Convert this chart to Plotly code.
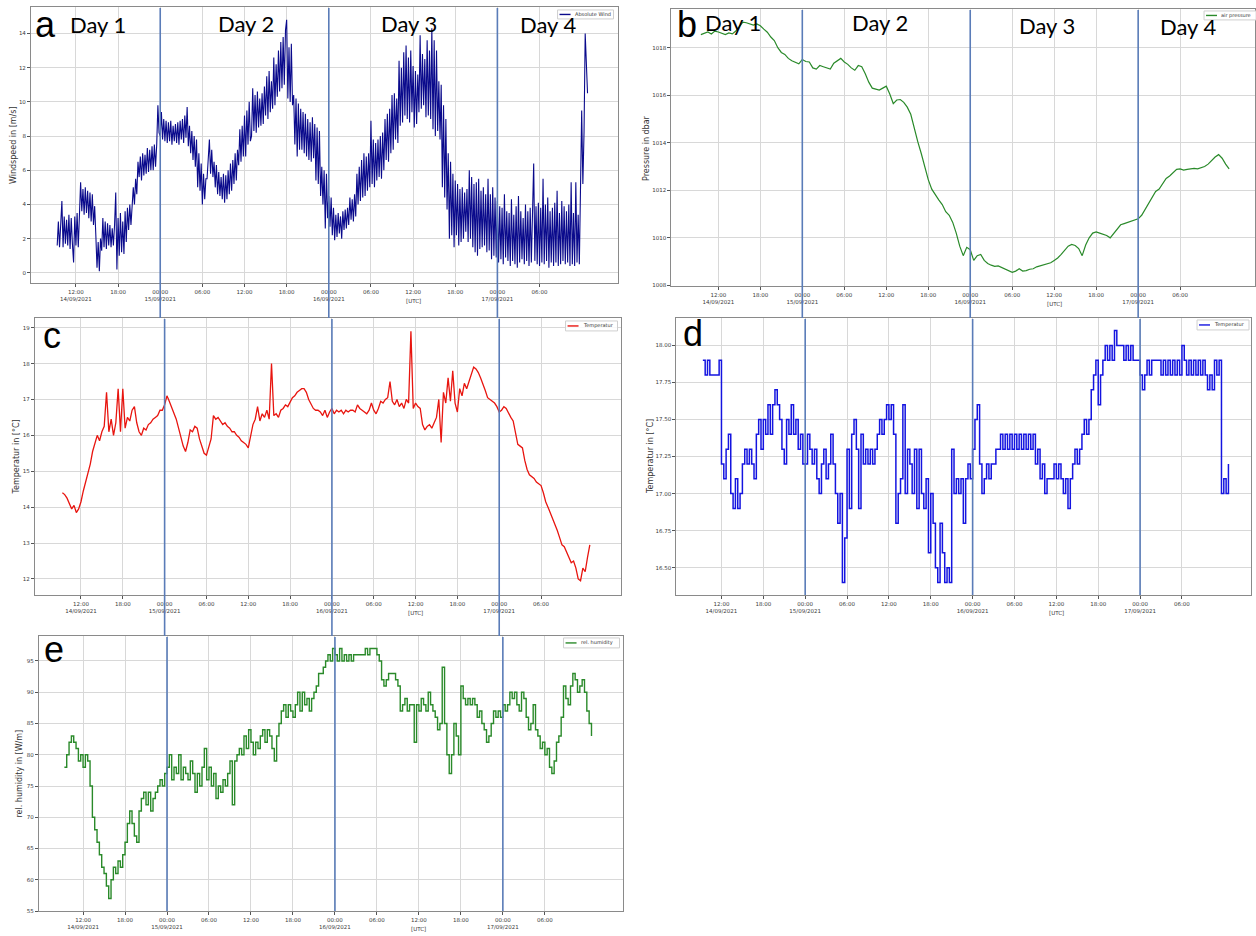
import pandas as pd
import plotly.graph_objects as go

W, H = 1256, 936
T0 = pd.Timestamp("2021-09-14 00:00")


def at(h):
    """Timestamp string for a number of hours after 14/09/2021 00:00 UTC."""
    return (T0 + pd.Timedelta(hours=h)).strftime("%Y-%m-%d %H:%M:%S")


# ---------------------------------------------------------------------------
# Measurements
# ---------------------------------------------------------------------------
# absolute wind speed [m/s], 10-minute samples from 14/09 09:20 UTC (one row per hour)
wind_speed = [
    1.6, 3.0, 1.5, 2.8,
    4.2, 1.5, 3.3, 1.7, 3.1, 1.6,
    3.4, 1.4, 3.2, 1.7, 0.6, 3.3,
    1.6, 3.5, 1.5, 3.4, 5.3, 3.6,
    4.9, 3.4, 5.0, 3.5, 4.8, 3.2,
    4.7, 3.0, 4.6, 2.8, 3.9, 2.2,
    0.3, 1.8, 0.1, 2.0, 1.3, 3.2,
    1.5, 3.0, 1.4, 2.9, 1.6, 2.8,
    1.5, 2.6, 1.6, 2.8, 4.7, 0.2,
    3.2, 1.0, 3.5, 1.2, 3.0, 1.1,
    3.6, 1.8, 3.8, 2.5, 4.0, 2.8,
    3.8, 5.0, 4.0, 5.5, 4.6, 6.5,
    5.6, 6.8, 5.4, 7.0, 5.7, 6.9,
    5.8, 7.3, 5.9, 7.2, 6.0, 7.4,
    6.0, 7.5, 6.2, 7.5, 9.8, 8.2,
    8.0, 9.4, 7.8, 9.0, 7.7, 8.9,
    7.6, 8.8, 7.7, 8.9, 7.5, 8.6,
    7.7, 8.7, 7.6, 8.8, 7.5, 8.9,
    7.8, 9.0, 7.6, 9.2, 7.9, 9.7,
    7.4, 8.6, 7.0, 8.3, 6.6, 8.0,
    6.2, 7.8, 5.0, 7.0, 4.8, 6.4,
    4.0, 5.8, 4.3, 5.5, 5.5, 7.0,
    7.8, 5.8, 7.2, 5.6, 6.5, 5.0,
    6.3, 4.6, 5.9, 4.5, 5.6, 4.3,
    5.8, 4.1, 5.7, 4.3, 6.0, 4.6,
    6.4, 4.8, 6.6, 5.2, 7.0, 5.4,
    7.2, 6.3, 8.4, 6.5, 8.6, 6.8,
    9.2, 6.8, 9.5, 7.5, 10.0, 7.7,
    8.0, 10.8, 8.3, 10.4, 8.2, 10.6,
    8.5, 10.2, 8.6, 10.5, 8.7, 10.9,
    9.2, 11.5, 9.0, 11.8, 9.4, 11.2,
    9.6, 12.6, 9.8, 12.2, 10.3, 13.0,
    10.6, 13.5, 10.8, 13.8, 11.0, 14.2,
    14.8, 10.2, 13.2, 10.0, 13.4, 9.8,
    10.4, 7.5, 10.2, 6.8, 9.9, 7.2,
    9.6, 7.2, 9.4, 7.0, 9.3, 6.8,
    9.0, 6.6, 8.8, 6.5, 9.1, 6.7,
    8.7, 5.4, 8.5, 5.2, 8.3, 4.5,
    6.2, 4.0, 6.0, 2.6, 5.8, 3.2,
    4.5, 2.7, 4.4, 2.2, 3.8, 1.9,
    3.4, 2.1, 3.5, 2.3, 3.3, 2.0,
    3.6, 2.5, 3.7, 2.6, 3.8, 2.8,
    4.4, 3.1, 4.3, 3.0, 4.6, 3.3,
    5.8, 4.0, 6.2, 4.2, 6.6, 4.4,
    7.0, 4.5, 6.8, 4.8, 7.0, 5.0,
    8.9, 5.2, 7.8, 5.0, 7.6, 5.4,
    7.8, 5.6, 8.0, 5.5, 8.2, 6.0,
    9.0, 6.6, 9.3, 6.5, 9.6, 7.0,
    10.4, 7.2, 10.5, 7.8, 10.2, 7.6,
    12.4, 8.6, 12.0, 8.8, 12.9, 9.2,
    13.3, 9.0, 12.6, 8.8, 13.0, 9.4,
    12.1, 8.5, 11.8, 8.7, 11.6, 9.4,
    13.9, 9.6, 12.8, 9.8, 12.5, 9.1,
    13.6, 9.2, 13.0, 9.0, 14.3, 8.4,
    13.6, 8.0, 13.0, 8.3, 11.2, 7.8,
    11.0, 5.0, 9.8, 4.4, 9.0, 3.7,
    7.0, 2.0, 6.5, 2.2, 5.8, 1.5,
    5.4, 2.2, 5.2, 1.6, 4.9, 1.8,
    5.0, 2.0, 4.7, 2.4, 4.9, 1.8,
    6.0, 2.0, 5.6, 1.5, 5.2, 1.2,
    5.3, 1.0, 5.5, 1.4, 4.8, 1.5,
    5.0, 1.6, 4.6, 1.2, 5.5, 1.3,
    4.6, 0.8, 5.0, 1.0, 4.4, 0.9,
    4.2, 0.6, 3.9, 0.8, 3.8, 0.5,
    4.6, 0.9, 3.6, 0.7, 3.5, 0.4,
    4.3, 0.7, 3.4, 0.5, 3.9, 0.3,
    4.5, 0.6, 3.6, 0.8, 3.2, 0.5,
    4.0, 0.7, 3.6, 0.4, 3.8, 0.6,
    3.7, 6.4, 0.7, 3.9, 0.5, 4.1,
    0.4, 3.8, 0.6, 5.5, 0.5, 4.0,
    0.7, 4.4, 0.3, 3.6, 0.6, 3.8,
    0.4, 4.1, 0.6, 4.8, 0.4, 3.5,
    0.5, 4.2, 0.7, 3.9, 0.5, 3.6,
    0.6, 4.0, 0.4, 5.3, 0.5, 3.5,
    0.4, 5.3, 0.6, 3.4, 0.5, 6.0,
    9.5, 5.2, 8.2, 14.0, 11.8, 10.5,
]

# air pressure [dbar], 30-minute samples from 14/09 09:30 UTC
air_pressure = [
    1018.55, 1018.62, 1018.66, 1018.58, 1018.70, 1018.66, 1018.60, 1018.55, 1018.62, 1018.58, 1018.70, 1018.90,
    1019.08, 1019.05, 1019.00, 1018.95, 1019.00, 1018.92, 1018.78, 1018.65, 1018.45, 1018.30, 1018.00, 1017.80,
    1017.72, 1017.55, 1017.45, 1017.38, 1017.32, 1017.50, 1017.42, 1017.40, 1017.15, 1017.10, 1017.25, 1017.20,
    1017.15, 1017.10, 1017.35, 1017.45, 1017.55, 1017.40, 1017.30, 1017.15, 1017.05, 1017.25, 1017.20, 1016.90,
    1016.55, 1016.30, 1016.25, 1016.22, 1016.30, 1016.38, 1016.05, 1015.65, 1015.80, 1015.82, 1015.70, 1015.50,
    1015.20, 1014.60, 1014.05, 1013.55, 1013.00, 1012.45, 1012.05, 1011.80, 1011.60, 1011.40, 1011.10, 1010.95,
    1010.65, 1010.20, 1009.65, 1009.25, 1009.60, 1009.50, 1009.05, 1009.25, 1009.30, 1009.05, 1008.92, 1008.85,
    1008.80, 1008.82, 1008.75, 1008.70, 1008.62, 1008.55, 1008.60, 1008.70, 1008.60, 1008.62, 1008.68, 1008.70,
    1008.78, 1008.82, 1008.88, 1008.90, 1008.95, 1009.05, 1009.15, 1009.30, 1009.50, 1009.65, 1009.72, 1009.68,
    1009.55, 1009.25, 1009.70, 1010.00, 1010.20, 1010.25, 1010.20, 1010.15, 1010.10, 1010.00, 1010.20, 1010.40,
    1010.55, 1010.60, 1010.65, 1010.70, 1010.72, 1010.80, 1010.95, 1011.20, 1011.45, 1011.75, 1011.95, 1012.05,
    1012.30, 1012.50, 1012.60, 1012.75, 1012.88, 1012.90, 1012.85, 1012.88, 1012.90, 1012.92, 1012.90, 1012.95,
    1013.00, 1013.10, 1013.25, 1013.40, 1013.50, 1013.35, 1013.10, 1012.90,
]

# air temperature [degC], 20-minute samples from 14/09 09:20 UTC
temp_air = [
    14.4, 14.35,
    14.25, 14.1, 13.95, 14.05, 13.85, 13.95, 14.15, 14.45, 14.7, 14.95, 15.2, 15.55,
    15.75, 16.0, 15.85, 16.1, 16.25, 17.2, 16.1, 16.45, 16.0, 16.35, 17.3, 16.1,
    17.3, 16.2, 16.5, 16.4, 16.7, 16.8, 16.35, 16.1, 16.0, 16.2, 16.15, 16.3,
    16.35, 16.45, 16.5, 16.55, 16.7, 16.7, 16.85, 17.1, 16.95, 16.8, 16.6, 16.45,
    16.2, 15.95, 15.7, 15.55, 15.8, 16.15, 16.1, 16.25, 16.2, 15.9, 15.7, 15.5,
    15.45, 15.65, 15.9, 16.55, 16.45, 16.5, 16.4, 16.3, 16.35, 16.25, 16.2, 16.1,
    16.1, 16.0, 15.95, 15.85, 15.8, 15.75, 15.65, 15.95, 16.3, 16.45, 16.8, 16.4,
    16.6, 16.5, 16.7, 16.45, 18.0, 16.55, 16.6, 16.5, 16.7, 16.75, 16.85, 16.8,
    16.95, 17.05, 17.1, 17.2, 17.25, 17.3, 17.3, 17.2, 17.0, 16.85, 16.75, 16.7,
    16.7, 16.65, 16.55, 16.7, 16.5, 16.65, 16.75, 16.6, 16.7, 16.65, 16.7, 16.6,
    16.7, 16.65, 16.7, 16.7, 16.65, 16.85, 16.75, 16.7, 16.65, 16.6, 16.7, 16.9,
    16.7, 16.6, 16.75, 16.95, 16.9, 17.0, 17.05, 17.5, 16.95, 16.85, 17.0, 16.8,
    16.9, 16.75, 17.0, 16.9, 18.9, 16.75, 16.9, 16.8, 16.75, 16.3, 16.15, 16.25,
    16.3, 16.2, 16.35, 16.5, 17.0, 15.8, 17.2, 16.9, 17.6, 16.95, 17.8, 16.9,
    16.65, 17.3, 17.1, 17.45, 17.3, 17.5, 17.7, 17.9, 17.85, 17.75, 17.6, 17.45,
    17.25, 17.05, 17.0, 16.95, 16.9, 16.8, 16.65, 16.7, 16.8, 16.75, 16.6, 16.5,
    16.4, 16.1, 15.75, 15.7, 15.65, 15.3, 15.05, 14.9, 14.85, 14.8, 14.7, 14.65,
    14.6, 14.4, 14.15, 14.0, 13.85, 13.7, 13.55, 13.35, 13.15, 12.95, 12.9, 12.75,
    12.6, 12.45, 12.5, 12.3, 12.0, 11.95, 12.3, 12.2, 12.6, 12.95,
]

# second temperature sensor [degC] (0.1 K resolution), 20-minute samples from 14/09 09:20 UTC
temp_sensor = [
    17.9, 17.8,
    17.9, 17.8, 17.8, 17.8, 17.8, 17.9, 17.2, 17.1, 17.3, 17.4, 17.0, 16.9,
    17.1, 16.9, 17.0, 17.2, 17.3, 17.2, 17.3, 17.2, 17.1, 17.4, 17.5, 17.3,
    17.5, 17.4, 17.6, 17.4, 17.6, 17.7, 17.6, 17.5, 17.3, 17.2, 17.5, 17.4,
    17.6, 17.4, 17.5, 17.3, 17.4, 17.2, 17.2, 17.4, 17.3, 17.2, 17.3, 17.1,
    17.0, 17.2, 17.3, 17.1, 17.2, 17.4, 17.2, 17.0, 16.8, 17.0, 16.4, 16.7,
    17.3, 16.9, 17.4, 17.5, 17.3, 16.9, 17.4, 17.2, 17.3, 17.2, 17.3, 17.2,
    17.3, 17.4, 17.5, 17.4, 17.5, 17.6, 17.5, 17.6, 17.4, 16.8, 17.0, 17.1,
    17.6, 17.0, 17.3, 17.2, 17.0, 17.3, 16.9, 17.3, 17.0, 16.9, 17.1, 16.6,
    17.0, 16.8, 16.5, 16.4, 16.8, 16.6, 16.4, 16.5, 16.4, 17.3, 17.0, 17.1,
    17.0, 17.1, 16.8, 17.1, 17.2, 17.1, 17.3, 17.5, 17.6, 17.2, 17.0, 17.1,
    17.2, 17.1, 17.2, 17.2, 17.3, 17.3, 17.4, 17.3, 17.4, 17.3, 17.4, 17.3,
    17.4, 17.3, 17.4, 17.3, 17.4, 17.3, 17.4, 17.3, 17.4, 17.2, 17.3, 17.1,
    17.2, 17.0, 17.1, 17.1, 17.1, 17.2, 17.1, 17.2, 17.1, 17.0, 17.1, 16.9,
    17.1, 17.2, 17.3, 17.2, 17.3, 17.4, 17.5, 17.4, 17.5, 17.7, 17.8, 17.9,
    17.6, 17.8, 17.9, 18.0, 17.9, 18.0, 17.9, 18.1, 18.0, 18.0, 18.0, 17.9,
    18.0, 17.9, 18.0, 17.9, 17.9, 17.9, 17.8, 17.7, 17.8, 17.9, 17.8, 17.9,
    17.9, 17.9, 17.9, 17.8, 17.9, 17.8, 17.9, 17.8, 17.9, 17.8, 17.9, 17.8,
    18.0, 17.9, 17.8, 17.9, 17.8, 17.9, 17.8, 17.9, 17.8, 17.9, 17.8, 17.7,
    17.8, 17.7, 17.9, 17.8, 17.9, 17.0, 17.1, 17.0, 17.2,
]

# relative humidity, 20-minute samples from 14/09 09:20 UTC
rel_humidity = [
    78, 80,
    82, 83, 82, 81, 79, 80, 78, 80, 79, 75, 70, 68,
    66, 64, 62, 61, 59, 57, 60, 62, 61, 63, 62, 64,
    66, 69, 71, 69, 67, 66, 71, 73, 74, 72, 74, 71,
    73, 74, 75, 76, 75, 77, 78, 80, 76, 78, 77, 80,
    76, 78, 77, 76, 79, 77, 74, 77, 75, 78, 81, 76,
    78, 75, 77, 73, 75, 74, 76, 75, 77, 79, 72, 79,
    80, 81, 80, 83, 81, 84, 82, 80, 82, 81, 83, 84,
    82, 84, 83, 81, 79, 83, 85, 87, 88, 86, 88, 87,
    86, 88, 90, 87, 90, 88, 89, 87, 89, 90, 91, 93,
    93, 94, 95, 96, 95, 97, 96, 95, 97, 95, 96, 95,
    96, 95, 96, 96, 96, 96, 96, 97, 96, 97, 97, 97,
    96, 95, 92, 91, 92, 93, 93, 93, 92, 91, 87, 88,
    89, 87, 88, 88, 82, 88, 87, 89, 88, 87, 90, 88,
    87, 86, 84, 85, 94, 85, 80, 77, 80, 85, 83, 80,
    91, 89, 88, 89, 88, 89, 88, 86, 87, 85, 84, 82,
    83, 85, 87, 86, 87, 86, 88, 87, 88, 90, 89, 90,
    88, 87, 90, 89, 86, 84, 85, 88, 84, 83, 81, 82,
    80, 81, 78, 77, 79, 82, 83, 86, 91, 89, 88, 91,
    93, 92, 90, 91, 92, 90, 87, 85, 83,
]

# time axes of the series
wind_time = pd.date_range("2021-09-14 09:20", periods=len(wind_speed), freq="10min")
pressure_time = pd.date_range("2021-09-14 09:30", periods=len(air_pressure), freq="30min")
temp_air_time = pd.date_range("2021-09-14 09:20", periods=len(temp_air), freq="20min")
temp_sensor_time = pd.date_range("2021-09-14 09:20", periods=len(temp_sensor), freq="20min")
humidity_time = pd.date_range("2021-09-14 09:20", periods=len(rel_humidity), freq="20min")

# x ticks every 6 h, day boundaries at midnight
tick_hours = [12, 18, 24, 30, 36, 42, 48, 54, 60, 66, 72, 78]
tick_labels = ["12:00<br>14/09/2021", "18:00", "00:00<br>15/09/2021", "06:00", "12:00", "18:00",
               "00:00<br>16/09/2021", "06:00", "12:00", "18:00", "00:00<br>17/09/2021", "06:00"]
day_break_hours = [24, 48, 72]
day_names = ["Day 1", "Day 2", "Day 3", "Day 4"]


def px_x(x):
    return x / W


def px_y(y):
    return 1 - y / H


FONT_TICK = dict(family="DejaVu Sans", size=5.5, color="#3a3a3a")
FONT_LEGEND = dict(family="DejaVu Sans", size=5, color="#333333")
BREAK_LINE = dict(color="#5a7cb8", width=1.6)

# one entry per subplot: frame box in pixels (left, top, right, bottom),
# visible time window in hours, value range, tick spec and the legend box
panels = [
    dict(letter="a", x=wind_time, y=wind_speed, name="Absolute Wind", color="#0a0a8c", shape="linear", lw=1.1,
         box=(31, 7, 618, 284), xr=(5.6, 89.1), yr=(-0.6, 15.55),
         yticks=[0, 2, 4, 6, 8, 10, 12, 14], yfmt="d", ytitle="Windspeed in [m/s]",
         ytitle_x=13, breaks_to=319, letter_xy=(46, 25), legend_box=(558, 10, 614, 19)),
    dict(letter="b", x=pressure_time, y=air_pressure, name="air pressure", color="#2a8a2a", shape="linear", lw=1.2,
         box=(672, 9, 1256, 287), xr=(5.3, 88.7), yr=(1007.97, 1019.63),
         yticks=[1008, 1010, 1012, 1014, 1016, 1018], yfmt="d", ytitle="Pressure in dbar",
         ytitle_x=647, breaks_to=319, letter_xy=(688, 25), legend_box=(1205, 11, 1258, 20)),
    dict(letter="c", x=temp_air_time, y=temp_air, name="Temperatur", color="#e8150f", shape="linear", lw=1.3,
         box=(35, 319, 621, 597), xr=(5.4, 89.4), yr=(11.55, 19.27),
         yticks=[12, 13, 14, 15, 16, 17, 18, 19], yfmt="d", ytitle="Temperatur in [°C]",
         ytitle_x=17, breaks_to=638, letter_xy=(52, 337), legend_box=(566, 322, 618, 332)),
    dict(letter="d", x=temp_sensor_time, y=temp_sensor, name="Temperatur", color="#1414e0", shape="hv", lw=1.5,
         box=(677, 319, 1252, 597), xr=(5.55, 87.9), yr=(16.315, 18.185),
         yticks=[16.5, 16.75, 17.0, 17.25, 17.5, 17.75, 18.0], yfmt=".2f", ytitle="Temperatur in [°C]",
         ytitle_x=651, breaks_to=597, letter_xy=(694, 335), legend_box=(1198, 321, 1250, 331)),
    dict(letter="e", x=humidity_time, y=rel_humidity, name="rel. humidity", color="#2a8a2a", shape="hv", lw=1.4,
         box=(39, 638, 623, 914), xr=(5.7, 89.1), yr=(55, 99),
         yticks=[55, 60, 65, 70, 75, 80, 85, 90, 95], yfmt="d", ytitle="rel. humidity in [W/m]",
         ytitle_x=20, breaks_to=914, letter_xy=(54, 652), legend_box=(564, 640, 620, 650)),
]

fig = go.Figure()
layout = dict(
    width=W, height=H, margin=dict(l=0, r=0, t=0, b=0),
    paper_bgcolor="white", plot_bgcolor="white", showlegend=False,
    font=dict(family="DejaVu Sans", color="#333333"),
)
shapes, annotations = [], []

for i, p in enumerate(panels):
    n = "" if i == 0 else str(i + 1)
    xa, ya = "x" + n, "y" + n
    l, t, r, b = p["box"]

    fig.add_trace(go.Scatter(
        x=p["x"], y=p["y"], mode="lines", name=p["name"], xaxis=xa, yaxis=ya,
        line=dict(color=p["color"], width=p["lw"], shape=p["shape"]),
    ))

    layout["xaxis" + n] = dict(
        domain=[px_x(l), px_x(r)], anchor=ya, type="date",
        range=[at(p["xr"][0]), at(p["xr"][1])],
        tickmode="array", tickvals=[at(h) for h in tick_hours], ticktext=tick_labels,
        tickfont=FONT_TICK, ticks="outside", ticklen=3, tickcolor="#555555",
        showgrid=True, gridcolor="#d8d8d8", gridwidth=1,
        showline=True, mirror=True, linecolor="#8a8a8a", linewidth=1, zeroline=False,
    )
    layout["yaxis" + n] = dict(
        domain=[px_y(b), px_y(t)], anchor=xa, range=list(p["yr"]),
        tickmode="array", tickvals=p["yticks"], tickformat=p["yfmt"],
        tickfont=FONT_TICK, ticks="outside", ticklen=3, tickcolor="#555555",
        showgrid=True, gridcolor="#d8d8d8", gridwidth=1,
        showline=True, mirror=True, linecolor="#8a8a8a", linewidth=1, zeroline=False,
    )

    # midnight markers, continued down through the gap below the panel
    for hb in day_break_hours:
        shapes.append(dict(type="line", xref=xa, yref="paper", x0=at(hb), x1=at(hb),
                           y0=px_y(p["breaks_to"]), y1=px_y(t + 1), line=BREAK_LINE, layer="above"))

    # compact legend box in the upper right corner
    gx0, gy0, gx1, gy1 = p["legend_box"]
    gym = (gy0 + gy1) / 2
    shapes.append(dict(type="rect", xref="paper", yref="paper",
                       x0=px_x(gx0), x1=px_x(gx1), y0=px_y(gy1), y1=px_y(gy0),
                       fillcolor="rgba(255,255,255,0.85)", line=dict(color="#cfcfcf", width=1), layer="above"))
    shapes.append(dict(type="line", xref="paper", yref="paper",
                       x0=px_x(gx0 + 2), x1=px_x(gx0 + 13), y0=px_y(gym), y1=px_y(gym),
                       line=dict(color=p["color"], width=1.4), layer="above"))
    annotations.append(dict(text=p["name"], xref="paper", yref="paper", x=px_x(gx0 + 15), y=px_y(gym),
                            xanchor="left", yanchor="middle", showarrow=False, font=FONT_LEGEND))

    # axis titles
    annotations.append(dict(text=p["ytitle"], xref="paper", yref="paper",
                            x=px_x(p["ytitle_x"]), y=px_y((t + b) / 2), textangle=-90,
                            xanchor="center", yanchor="middle", showarrow=False,
                            font=dict(family="DejaVu Sans", size=8, color="#333333")))
    annotations.append(dict(text="[UTC]", xref=xa, yref="paper", x=at(60), y=px_y(b + 18),
                            xanchor="center", yanchor="middle", showarrow=False, font=FONT_TICK))
    # panel letter
    lx, ly = p["letter_xy"]
    annotations.append(dict(text=p["letter"], xref="paper", yref="paper", x=px_x(lx), y=px_y(ly),
                            xanchor="center", yanchor="middle", showarrow=False,
                            font=dict(family="Liberation Sans", size=36, color="black")))

# day names across the top row
day_label_px = {"a": [(98, 25), (246, 24), (409, 24), (549, 25)],
                "b": [(734, 23), (881, 23), (1048, 26), (1189, 27)]}
for key, spots in day_label_px.items():
    for name, (dx, dy) in zip(day_names, spots):
        annotations.append(dict(text=name, xref="paper", yref="paper", x=px_x(dx), y=px_y(dy),
                                xanchor="center", yanchor="middle", showarrow=False,
                                font=dict(family="Lato", size=22, color="black")))

layout["shapes"] = shapes
layout["annotations"] = annotations
fig.update_layout(**layout)
fig.write_html("out.html")
